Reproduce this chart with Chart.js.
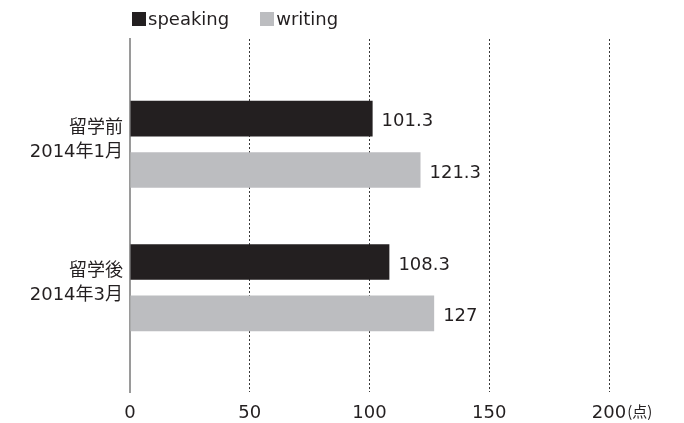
<!DOCTYPE html>
<html>
<head>
<meta charset="utf-8">
<script src="https://cdn.jsdelivr.net/npm/chart.js@4.4.0/dist/chart.umd.min.js"></script>
<style>
  html, body { margin: 0; padding: 0; background: #fff; }
  #wrap { position: relative; width: 684px; height: 423px; }
  #legend {
    position: absolute; left: 132px; top: 8px;
    font: 18px "DejaVu Sans", "Noto Sans CJK JP", sans-serif; color: #231f20;
    white-space: nowrap;
  }
  #legend .item { display: inline-block; margin-right: 31px; }
  #legend .box { display: inline-block; width: 14px; height: 14px; margin-right: 2px; vertical-align: -1px; }
</style>
</head>
<body>
<div id="wrap">
  <div id="legend"></div>
  <canvas id="scoreChart" width="684" height="423"></canvas>
</div>
<script>
var categories = [['留学前', '2014年1月'], ['留学後', '2014年3月']];
var seriesNames = ['speaking', 'writing'];
var speaking = [101.3, 108.3];
var writing = [121.3, 127];
var xTicks = [0, 50, 100, 150, 200];
var unitLabel = '(点)';

var colors = ['#231f20', '#bcbdc0'];
var mainFont = '"DejaVu Sans", "Noto Sans CJK JP", sans-serif';

function toPoints(values) {
    return values.map(function (v, i) { return { x: v, y: i }; });
}

// simple legend above the plot
var legendEl = document.getElementById('legend');
seriesNames.forEach(function (name, i) {
    var item = document.createElement('span');
    item.className = 'item';
    var box = document.createElement('span');
    box.className = 'box';
    box.style.background = colors[i];
    item.appendChild(box);
    item.appendChild(document.createTextNode(name));
    legendEl.appendChild(item);
});

// value label at the end of each bar
var valueLabels = {
    id: 'valueLabels',
    afterDatasetsDraw: function (chart) {
        var ctx = chart.ctx;
        ctx.save();
        ctx.font = '18px ' + mainFont;
        ctx.fillStyle = '#231f20';
        ctx.textAlign = 'left';
        ctx.textBaseline = 'middle';
        chart.data.datasets.forEach(function (ds, di) {
            chart.getDatasetMeta(di).data.forEach(function (bar, i) {
                ctx.fillText(String(ds.data[i].x), bar.x + 9, bar.y + 3);
            });
        });
        ctx.restore();
    }
};

// unit after the last x tick
var unitMark = {
    id: 'unitMark',
    afterDraw: function (chart) {
        var ctx = chart.ctx;
        var xs = chart.scales.x;
        var last = xTicks[xTicks.length - 1];
        ctx.save();
        ctx.font = '18px ' + mainFont;
        var half = ctx.measureText(String(last)).width / 2;
        ctx.font = '15px "Noto Sans CJK JP", sans-serif';
        ctx.fillStyle = '#231f20';
        ctx.textAlign = 'left';
        ctx.textBaseline = 'alphabetic';
        ctx.fillText(unitLabel, xs.getPixelForValue(last) + half + 1, 417);
        ctx.restore();
    }
};

new Chart(document.getElementById('scoreChart'), {
    type: 'bar',
    data: {
        datasets: [
            { label: seriesNames[0], data: toPoints(speaking), backgroundColor: colors[0] },
            { label: seriesNames[1], data: toPoints(writing), backgroundColor: colors[1] }
        ]
    },
    options: {
        indexAxis: 'y',
        responsive: false,
        animation: false,
        categoryPercentage: 0.717,
        barPercentage: 0.692,
        layout: { padding: { top: 39, right: 75, left: 0, bottom: 0 } },
        scales: {
            x: {
                type: 'linear',
                min: 0,
                max: 200,
                afterBuildTicks: function (scale) {
                    scale.ticks = xTicks.map(function (v) { return { value: v }; });
                },
                afterFit: function (scale) { scale.height = 28; },
                grid: {
                    color: '#3a3a3a',
                    lineWidth: 1,
                    drawTicks: false
                },
                border: { display: false, dash: [2, 2] },
                ticks: {
                    padding: 10,
                    color: '#231f20',
                    font: { family: mainFont, size: 18 }
                }
            },
            y: {
                type: 'linear',
                reverse: true,
                bounds: 'data',
                offset: false,
                grace: 0,
                min: -0.7345,
                max: 1.728,
                afterBuildTicks: function (scale) {
                    scale.ticks = categories.map(function (c, i) { return { value: i }; });
                },
                afterFit: function (scale) { scale.width = 130; },
                grid: { display: false, drawTicks: false, offset: false },
                border: { display: true, color: '#9a9a9a', width: 2 },
                ticks: {
                    padding: 7,
                    labelOffset: -4,
                    color: '#231f20',
                    font: { family: mainFont, size: 18, lineHeight: 1.33 },
                    callback: function (value) {
                        return categories[value] || '';
                    }
                }
            }
        },
        plugins: {
            legend: { display: false },
            tooltip: { enabled: false }
        }
    },
    plugins: [valueLabels, unitMark]
});
</script>
</body>
</html>
